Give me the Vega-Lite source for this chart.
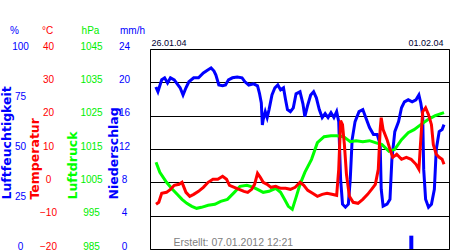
{
  "$schema": "https://vega.github.io/schema/vega-lite/v6.json",
  "width": 299,
  "height": 200,
  "autosize": "none",
  "padding": {"left": 150, "top": 49, "right": 1, "bottom": 1},
  "background": "white",
  "datasets": {
    "hum": [
      {"h":0.5,"v":81},{"h":1.7,"v":78.6},{"h":3.9,"v":84.6},{"h":5.6,"v":85.6},{"h":7.3,"v":83},{"h":9,"v":85.6},{"h":11.2,"v":84.6},{"h":12.9,"v":82.6},{"h":14.6,"v":80.6},{"h":16.3,"v":77},{"h":18,"v":80.6},{"h":19.7,"v":83.6},{"h":22.5,"v":85.6},{"h":25.3,"v":85.6},{"h":28.1,"v":88},{"h":30.9,"v":89.6},{"h":32.6,"v":90.5},{"h":34.3,"v":89},{"h":35.4,"v":87},{"h":37.1,"v":82},{"h":39.3,"v":81.6},{"h":41,"v":82},{"h":42.7,"v":84.6},{"h":45,"v":85.6},{"h":47.8,"v":86},{"h":50.6,"v":85.6},{"h":52.3,"v":83.6},{"h":54.5,"v":82},{"h":57.3,"v":82.6},{"h":59.6,"v":81.6},{"h":60.7,"v":78},{"h":61.8,"v":73},{"h":62.4,"v":62},{"h":62.9,"v":64.7},{"h":64.1,"v":68.7},{"h":65.2,"v":65.7},{"h":66.3,"v":69.7},{"h":68,"v":77},{"h":69.7,"v":80.6},{"h":71.4,"v":82},{"h":73,"v":79.6},{"h":74.7,"v":80.6},{"h":75.9,"v":74.6},{"h":77,"v":69.7},{"h":78.7,"v":68.7},{"h":80.4,"v":70.6},{"h":82,"v":77.6},{"h":84.3,"v":78.6},{"h":86,"v":72.6},{"h":87.1,"v":66.2},{"h":88.8,"v":72},{"h":90.5,"v":77},{"h":92.2,"v":78.6},{"h":93.8,"v":75.6},{"h":95.5,"v":69.7},{"h":97.2,"v":65.7},{"h":98.9,"v":67.7},{"h":100.6,"v":65.7},{"h":102.3,"v":68.2},{"h":104,"v":65.7},{"h":105.6,"v":68.7},{"h":106.8,"v":63.7},{"h":107.9,"v":34.8},{"h":109,"v":22.4},{"h":110.7,"v":20.9},{"h":112.4,"v":22.4},{"h":113.5,"v":34.8},{"h":114.6,"v":54.7},{"h":116.3,"v":63.7},{"h":118.6,"v":68.7},{"h":120.8,"v":69.7},{"h":122.5,"v":65.7},{"h":124.7,"v":60.7},{"h":127,"v":57.2},{"h":129.2,"v":57.2},{"h":130.9,"v":52.2},{"h":131.5,"v":29.9},{"h":132.6,"v":21.4},{"h":134.9,"v":22.4},{"h":136.6,"v":24.9},{"h":137.7,"v":44.8},{"h":139.4,"v":58.7},{"h":141.6,"v":63.7},{"h":143.3,"v":70.6},{"h":145,"v":73.6},{"h":147.2,"v":74.6},{"h":149.5,"v":73.6},{"h":151.7,"v":74.6},{"h":153.4,"v":77},{"h":154.5,"v":73},{"h":155.6,"v":67},{"h":156.2,"v":39.8},{"h":157.3,"v":24.9},{"h":159,"v":20.9},{"h":160.7,"v":22.4},{"h":162.4,"v":29.9},{"h":163.5,"v":49.8},{"h":165.2,"v":58.7},{"h":166.9,"v":59.7},{"h":168,"v":62.2}
    ],
    "temp": [
      {"h":0.6,"v":-6.6},{"h":2.2,"v":-6},{"h":3.9,"v":-3.3},{"h":6.7,"v":-3},{"h":9,"v":-2.1},{"h":11.2,"v":-0.9},{"h":14,"v":-0.6},{"h":15.7,"v":0},{"h":18,"v":-3},{"h":20.2,"v":-4.2},{"h":22.5,"v":-3.6},{"h":25.3,"v":-2.7},{"h":28.1,"v":-1.5},{"h":30.9,"v":0},{"h":33.7,"v":0.9},{"h":36.5,"v":0.9},{"h":39.3,"v":1.8},{"h":41.6,"v":0.9},{"h":43.3,"v":-0.9},{"h":46.1,"v":-1.5},{"h":48.9,"v":-2.1},{"h":51.7,"v":-2.7},{"h":53.9,"v":-3},{"h":56.2,"v":-2.1},{"h":57.9,"v":-0.6},{"h":59.6,"v":2.7},{"h":61.2,"v":1.5},{"h":62.9,"v":0},{"h":65.2,"v":-0.6},{"h":67.4,"v":-1.5},{"h":70.2,"v":-1.2},{"h":73,"v":-1.8},{"h":75.9,"v":-1.8},{"h":78.7,"v":-2.1},{"h":81.5,"v":-1.5},{"h":84.3,"v":0},{"h":86.5,"v":-0.9},{"h":88.8,"v":-2.4},{"h":91.6,"v":-3.3},{"h":94.4,"v":-4.2},{"h":97.2,"v":-3.6},{"h":100,"v":-3.3},{"h":102.8,"v":-3.6},{"h":105.6,"v":-3.9},{"h":106.8,"v":3.9},{"h":107.9,"v":18.5},{"h":109,"v":17.3},{"h":110.1,"v":11.3},{"h":111.3,"v":2.4},{"h":113,"v":-4.2},{"h":115.2,"v":-6},{"h":118,"v":-6.3},{"h":120.8,"v":-5.1},{"h":123.6,"v":-3.6},{"h":125.9,"v":-2.1},{"h":128.1,"v":-0.6},{"h":129.8,"v":3.9},{"h":130.9,"v":15.8},{"h":131.5,"v":19.4},{"h":132.6,"v":15.8},{"h":134.9,"v":12.8},{"h":136.6,"v":9.9},{"h":138.2,"v":7.5},{"h":140.5,"v":8.4},{"h":143.3,"v":6.9},{"h":146.1,"v":7.5},{"h":148.9,"v":6.9},{"h":151.7,"v":5.4},{"h":153.4,"v":3.9},{"h":154.5,"v":12.8},{"h":155.6,"v":21.2},{"h":157.3,"v":22.4},{"h":159,"v":20.3},{"h":160.7,"v":17.3},{"h":161.8,"v":11.3},{"h":163.5,"v":8.4},{"h":165.2,"v":7.5},{"h":166.9,"v":6.9},{"h":168,"v":5.4}
    ],
    "pres": [
      {"h":0.6,"v":1011},{"h":2.8,"v":1008},{"h":6.7,"v":1005},{"h":10.1,"v":1002.9},{"h":12.9,"v":1001.4},{"h":15.7,"v":999.9},{"h":18.5,"v":998.7},{"h":21.4,"v":997.8},{"h":24.2,"v":997.2},{"h":27,"v":997.5},{"h":30.9,"v":998.1},{"h":34.8,"v":998.4},{"h":38.2,"v":999.3},{"h":42.1,"v":999.9},{"h":46.1,"v":1002},{"h":49.4,"v":1003.8},{"h":53.4,"v":1004.1},{"h":57.3,"v":1003.5},{"h":60.7,"v":1002.6},{"h":62.9,"v":1002},{"h":66.3,"v":1002.3},{"h":70.2,"v":1003.2},{"h":73,"v":1002},{"h":75.3,"v":999.9},{"h":77.5,"v":997.8},{"h":79.8,"v":996.9},{"h":82,"v":1000.5},{"h":84.3,"v":1004.4},{"h":87.1,"v":1008},{"h":91,"v":1011.9},{"h":94.4,"v":1016.9},{"h":98.3,"v":1018.7},{"h":102.3,"v":1019},{"h":105.6,"v":1019},{"h":109.6,"v":1018.7},{"h":113.5,"v":1017.2},{"h":116.9,"v":1017.5},{"h":120.8,"v":1017.2},{"h":124.7,"v":1017.5},{"h":128.1,"v":1016.9},{"h":132,"v":1016.3},{"h":136,"v":1014.3},{"h":139.4,"v":1014.9},{"h":143.3,"v":1017.8},{"h":147.2,"v":1019.9},{"h":150.6,"v":1020.8},{"h":154.5,"v":1022.3},{"h":158.5,"v":1023.8},{"h":162.9,"v":1025},{"h":168,"v":1025.9}
    ],
    "rain": [
      {"h":149,"v":1.6}
    ]
  },
  "encoding": {
    "x": {"field": "h", "type": "quantitative", "scale": {"domain": [0, 168], "nice": false, "zero": false},
      "axis": {"orient": "top", "values": [0, 168], "labelExpr": "datum.value == 0 ? '26.01.04' : '01.02.04'", "labelFlush": false, "labelAlign": {"expr": "datum.value == 0 ? 'left' : 'right'"}, "labelOffset": {"expr": "datum.value == 0 ? -4 : -1"}, "labelPadding": 2, "labelFont": "Liberation Sans", "labelFontSize": 9, "labelColor": "#000033", "labelAngle": 0,
        "title": "Erstellt: 07.01.2012 12:21", "titleX": 23, "titleY": 196.5, "titleAlign": "left", "titleBaseline": "alphabetic", "titleAngle": 0, "titleFont": "Liberation Sans", "titleFontSize": 10.5, "titleFontWeight": "normal", "titleColor": "#808080"}}
  },
  "layer": [
    {
      "layer": [
        {
          "data": {"name": "hum"},
          "mark": {"type": "line", "color": "#0000ff", "strokeWidth": 3},
          "encoding": {
            "y": {"field": "v", "type": "quantitative", "scale": {"domain": [0, 100], "nice": false},
              "axis": {"orient": "left", "title": "Luftfeuchtigkeit", "values": [0, 25, 50, 75, 100], "labelColor": "#0000ff", "titleColor": "#0000ff", "labelPadding": 130, "labelAlign": "center", "labelOffset": -3, "titleX": -144, "titleY": 150, "titleAlign": "left", "titleAngle": 270, "titleBaseline": "middle"}}
          }
        },
        {
          "data": {"name": "hum"},
          "mark": {"type": "line", "strokeOpacity": 0},
          "encoding": {
            "y": {"field": "v", "type": "quantitative", "scale": {"domain": [0, 100], "nice": false},
              "axis": {"orient": "left", "title": "%", "labels": false, "titleAngle": 0, "titleX": -136, "titleY": -19, "titleAlign": "center", "titleBaseline": "middle", "titleFont": "Liberation Sans", "titleFontSize": 10, "titleFontWeight": "normal", "titleColor": "#0000ff"}}
          }
        }
      ],
      "resolve": {"axis": {"y": "independent"}}
    },
    {
      "layer": [
        {
          "data": {"name": "pres"},
          "mark": {"type": "line", "color": "#00ff00", "strokeWidth": 3},
          "encoding": {
            "y": {"field": "v", "type": "quantitative", "scale": {"domain": [985, 1045], "nice": false, "zero": false},
              "axis": {"orient": "left", "title": "Luftdruck", "format": "d", "values": [985, 995, 1005, 1015, 1025, 1035, 1045], "labelColor": "#00ee00", "titleColor": "#00ff00", "labelPadding": 59, "labelAlign": "center", "labelOffset": -3, "titleX": -78, "titleY": 150, "titleAlign": "left", "titleAngle": 270, "titleBaseline": "middle"}}
          }
        },
        {
          "data": {"name": "pres"},
          "mark": {"type": "line", "strokeOpacity": 0},
          "encoding": {
            "y": {"field": "v", "type": "quantitative", "scale": {"domain": [985, 1045], "nice": false, "zero": false},
              "axis": {"orient": "left", "title": "hPa", "labels": false, "titleAngle": 0, "titleX": -60, "titleY": -19, "titleAlign": "center", "titleBaseline": "middle", "titleFont": "Liberation Sans", "titleFontSize": 10, "titleFontWeight": "normal", "titleColor": "#00ee00"}}
          }
        }
      ],
      "resolve": {"axis": {"y": "independent"}}
    },
    {
      "layer": [
        {
          "data": {"name": "temp"},
          "mark": {"type": "line", "color": "#ff0000", "strokeWidth": 3},
          "encoding": {
            "y": {"field": "v", "type": "quantitative", "scale": {"domain": [-20, 40], "nice": false, "zero": false},
              "axis": {"orient": "left", "title": "Temperatur", "values": [-20, -10, 0, 10, 20, 30, 40], "grid": true, "gridColor": "#000000", "gridWidth": 1, "gridOpacity": 1, "labelColor": "#ff0000", "titleColor": "#ff0000", "labelPadding": 102, "labelAlign": "center", "labelOffset": -3, "titleX": -115.5, "titleY": 150, "titleAlign": "left", "titleAngle": 270, "titleBaseline": "middle"}}
          }
        },
        {
          "data": {"name": "temp"},
          "mark": {"type": "line", "strokeOpacity": 0},
          "encoding": {
            "y": {"field": "v", "type": "quantitative", "scale": {"domain": [-20, 40], "nice": false, "zero": false},
              "axis": {"orient": "left", "title": "°C", "labels": false, "titleAngle": 0, "titleX": -103, "titleY": -19, "titleAlign": "center", "titleBaseline": "middle", "titleFont": "Liberation Sans", "titleFontSize": 10, "titleFontWeight": "normal", "titleColor": "#ff0000"}}
          }
        }
      ],
      "resolve": {"axis": {"y": "independent"}}
    },
    {
      "layer": [
        {
          "data": {"name": "rain"},
          "mark": {"type": "bar", "color": "#0000ff", "size": 4, "orient": "vertical"},
          "encoding": {
            "y": {"field": "v", "type": "quantitative", "scale": {"domain": [0, 24], "nice": false},
              "axis": {"orient": "left", "title": "Niederschlag", "values": [0, 4, 8, 12, 16, 20, 24], "labelColor": "#0000ff", "titleColor": "#0000ff", "labelPadding": 26, "labelAlign": "center", "labelOffset": -3, "titleX": -37, "titleY": 150, "titleAlign": "left", "titleAngle": 270, "titleBaseline": "middle"}}
          }
        },
        {
          "data": {"name": "rain"},
          "mark": {"type": "point", "opacity": 0},
          "encoding": {
            "y": {"field": "v", "type": "quantitative", "scale": {"domain": [0, 24], "nice": false},
              "axis": {"orient": "left", "title": "mm/h", "labels": false, "titleAngle": 0, "titleX": -18, "titleY": -19, "titleAlign": "center", "titleBaseline": "middle", "titleFont": "Liberation Sans", "titleFontSize": 10, "titleFontWeight": "normal", "titleColor": "#0000ff"}}
          }
        }
      ],
      "resolve": {"axis": {"y": "independent"}}
    }
  ],
  "resolve": {"scale": {"y": "independent"}},
  "config": {
    "view": {"stroke": "#000000", "strokeWidth": 1},
    "axis": {
      "domain": false,
      "ticks": false,
      "tickSize": 0,
      "grid": false,
      "labelFont": "Liberation Sans",
      "labelFontSize": 10,
      "titleFont": "DejaVu Sans",
      "titleFontSize": 12.5,
      "titleFontWeight": "bold",
      "labelOverlap": false
    }
  }
}
